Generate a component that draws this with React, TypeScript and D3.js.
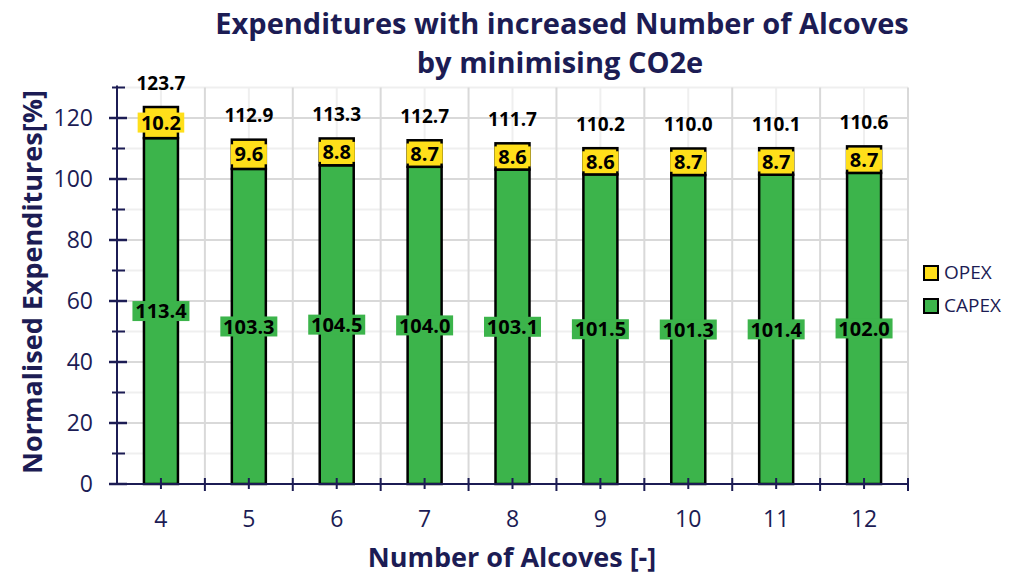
import React from "react";
import * as d3 from "d3";

const categories = ["4", "5", "6", "7", "8", "9", "10", "11", "12"];
const capex = [113.4, 103.3, 104.5, 104.0, 103.1, 101.5, 101.3, 101.4, 102.0];
const opex = [10.2, 9.6, 8.8, 8.7, 8.6, 8.6, 8.7, 8.7, 8.7];
const totals = [123.7, 112.9, 113.3, 112.7, 111.7, 110.2, 110.0, 110.1, 110.6];
const yMajorTicks = [0, 20, 40, 60, 80, 100, 120];
const yMinorTicks = [10, 30, 50, 70, 90, 110, 130];

const W = 1011, H = 574;
const M = { left: 117, right: 908, top: 87.5, bottom: 484 };
const NAVY = "#1c1c54";
const GREEN = "#3cb44b";
const YELLOW = "#ffdf1a";
const FONT = "'Open Sans', sans-serif";

export default function App() {
  const x = d3.scaleBand().domain(categories).range([M.left, M.right]).padding(0);
  const y = d3.scaleLinear().domain([0, 130]).range([M.bottom, M.top]);
  const bw = 34;
  const bandW = x.bandwidth();
  const boundaries = d3.range(categories.length + 1).map((i) => M.left + i * bandW);

  const labelBox = (cx: number, cy: number, text: string, fill: string, fs: number) => {
    const w = text.length * fs * 0.52 + 5;
    return (
      <g>
        <rect x={cx - w / 2} y={cy - 10} width={w} height={20} fill={fill} />
        <text x={cx} y={cy} dy="0.36em" textAnchor="middle" fontSize={fs} fontWeight="bold" fill="#000" fontFamily={FONT}>
          {text}
        </text>
      </g>
    );
  };

  return (
    <svg width={W} height={H} style={{ position: "absolute", left: 0, top: 0, background: "#fff" }}>
      {/* grid */}
      {yMinorTicks.map((t) => (
        <line key={"ym" + t} x1={M.left} x2={M.right} y1={y(t)} y2={y(t)} stroke="#efefef" strokeWidth={2} />
      ))}
      {yMajorTicks.filter((t) => t > 0).map((t) => (
        <line key={"yM" + t} x1={M.left} x2={M.right} y1={y(t)} y2={y(t)} stroke="#d9d9d9" strokeWidth={2} />
      ))}
      {categories.map((c) => (
        <line key={"xm" + c} x1={x(c)! + bandW / 2} x2={x(c)! + bandW / 2} y1={M.top} y2={M.bottom} stroke="#efefef" strokeWidth={2} />
      ))}
      {boundaries.slice(1).map((b, i) => (
        <line key={"xb" + i} x1={b} x2={b} y1={M.top} y2={M.bottom} stroke="#d9d9d9" strokeWidth={2} />
      ))}

      {/* bars */}
      {categories.map((c, i) => {
        const cx = x(c)! + bandW / 2;
        return (
          <g key={"bar" + c}>
            <rect x={cx - bw / 2} y={y(capex[i])} width={bw} height={y(0) - y(capex[i])} fill={GREEN} stroke="#000" strokeWidth={2.5} />
            <rect x={cx - bw / 2} y={y(capex[i] + opex[i])} width={bw} height={y(capex[i]) - y(capex[i] + opex[i])} fill={YELLOW} stroke="#000" strokeWidth={2.5} />
          </g>
        );
      })}

      {/* labels */}
      {categories.map((c, i) => {
        const cx = x(c)! + bandW / 2;
        return (
          <g key={"lab" + c}>
            {labelBox(cx, y(capex[i] / 2), capex[i].toFixed(1), GREEN, 20)}
            {labelBox(cx, y(capex[i] + opex[i] / 2), opex[i].toFixed(1), YELLOW, 20)}
            <text x={cx} y={y(capex[i] + opex[i]) - 24} dy="0.36em" textAnchor="middle" fontSize={19} fontWeight="bold" fill="#000" fontFamily={FONT}>
              {totals[i].toFixed(1)}
            </text>
          </g>
        );
      })}

      {/* axes */}
      <line x1={M.left} x2={M.left} y1={M.top - 2} y2={M.bottom} stroke={NAVY} strokeWidth={2} />
      <line x1={M.left - 8} x2={M.right} y1={M.bottom} y2={M.bottom} stroke={NAVY} strokeWidth={2} />
      {yMajorTicks.map((t) => (
        <g key={"yt" + t}>
          <line x1={M.left - 8} x2={M.left + 10} y1={y(t)} y2={y(t)} stroke={NAVY} strokeWidth={2.5} />
          <text x={M.left - 24} y={y(t)} dy="0.36em" textAnchor="end" fontSize={23} fill={NAVY} fontFamily={FONT}>
            {t}
          </text>
        </g>
      ))}
      {yMinorTicks.map((t) => (
        <line key={"ymt" + t} x1={M.left - 5} x2={M.left + 8} y1={y(t)} y2={y(t)} stroke={NAVY} strokeWidth={2} />
      ))}
      {boundaries.slice(1).map((b, i) => (
        <line key={"xbt" + i} x1={b} x2={b} y1={M.bottom - 6} y2={M.bottom + 7} stroke={NAVY} strokeWidth={2} />
      ))}
      {categories.map((c) => (
        <g key={"xt" + c}>
          <line x1={x(c)! + bandW / 2} x2={x(c)! + bandW / 2} y1={M.bottom - 6} y2={M.bottom + 5} stroke={NAVY} strokeWidth={2} />
          <text x={x(c)! + bandW / 2} y={519} dy="0.36em" textAnchor="middle" fontSize={23} fill={NAVY} fontFamily={FONT}>
            {c}
          </text>
        </g>
      ))}

      {/* titles */}
      <text x={562} y={24} dy="0.36em" textAnchor="middle" fontSize={29} fontWeight="bold" fill={NAVY} fontFamily={FONT}>
        Expenditures with increased Number of Alcoves
      </text>
      <text x={560} y={63} dy="0.36em" textAnchor="middle" fontSize={29} fontWeight="bold" fill={NAVY} fontFamily={FONT}>
        by minimising CO2e
      </text>
      <text x={512} y={557} dy="0.36em" textAnchor="middle" fontSize={27} fontWeight="bold" fill={NAVY} fontFamily={FONT}>
        Number of Alcoves [-]
      </text>
      <text transform={`translate(32,282) rotate(-90)`} dy="0.36em" textAnchor="middle" fontSize={27} fontWeight="bold" fill={NAVY} fontFamily={FONT}>
        Normalised Expenditures[%]
      </text>

      {/* legend */}
      <rect x={924} y={266} width={14} height={14} fill={YELLOW} stroke="#000" strokeWidth={2} />
      <text x={944} y={272} dy="0.36em" fontSize={19} fill={NAVY} fontFamily={FONT}>OPEX</text>
      <rect x={924} y={299} width={14} height={14} fill={GREEN} stroke="#000" strokeWidth={2} />
      <text x={944} y={305} dy="0.36em" fontSize={19} fill={NAVY} fontFamily={FONT}>CAPEX</text>
    </svg>
  );
}
